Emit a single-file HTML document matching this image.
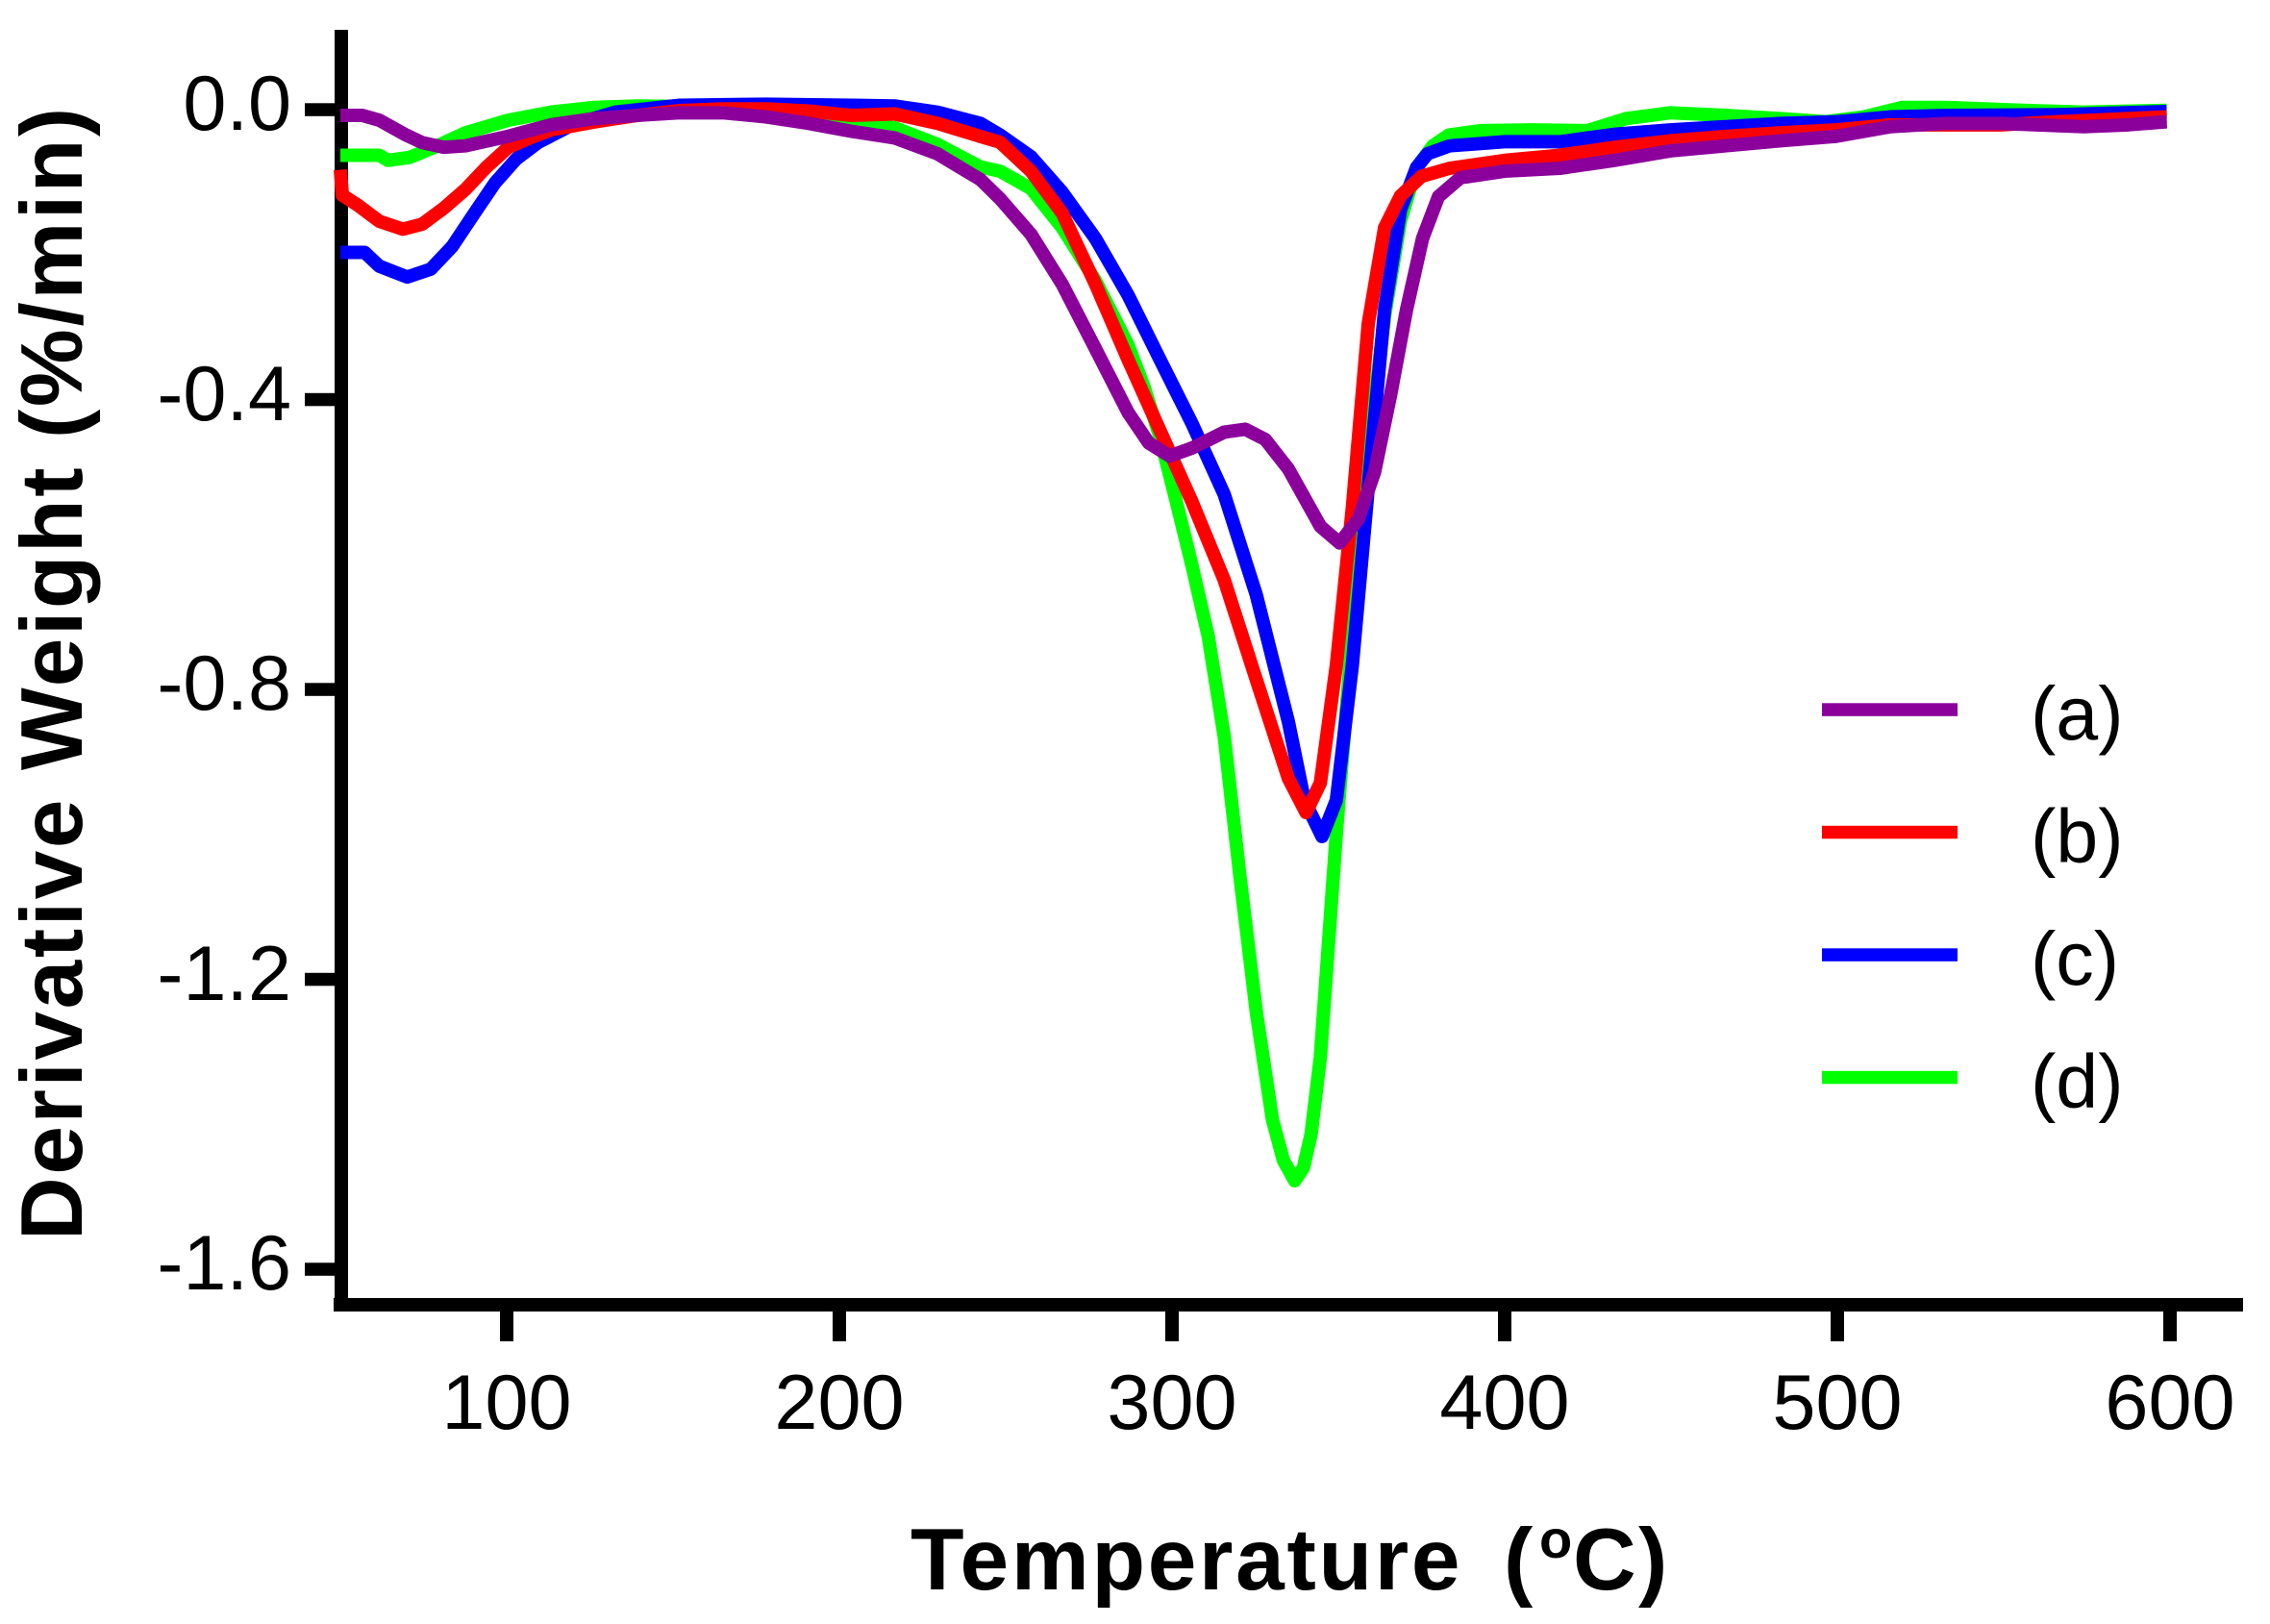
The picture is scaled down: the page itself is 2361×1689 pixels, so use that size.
<!DOCTYPE html>
<html>
<head>
<meta charset="utf-8">
<style>
html,body{margin:0;padding:0;background:#fff;}
svg{display:block;}
text{font-family:"Liberation Sans",Arial,sans-serif;fill:#000;}
</style>
</head>
<body>
<svg width="2361" height="1689" viewBox="0 0 2361 1689" xmlns="http://www.w3.org/2000/svg">
<rect x="0" y="0" width="2361" height="1689" fill="#fff"/>

<!-- axes -->
<rect x="348" y="31" width="14" height="1333" fill="#000"/>
<rect x="347" y="1350" width="1986" height="14" fill="#000"/>

<!-- y ticks -->
<rect x="317" y="107.3" width="32" height="13.5" fill="#000"/>
<rect x="317" y="408.8" width="32" height="13.5" fill="#000"/>
<rect x="317" y="710.3" width="32" height="13.5" fill="#000"/>
<rect x="317" y="1011.8" width="32" height="13.5" fill="#000"/>
<rect x="317" y="1313.3" width="32" height="13.5" fill="#000"/>

<!-- x ticks -->
<rect x="520" y="1363" width="14" height="32" fill="#000"/>
<rect x="866" y="1363" width="14" height="32" fill="#000"/>
<rect x="1212" y="1363" width="14" height="32" fill="#000"/>
<rect x="1558" y="1363" width="14" height="32" fill="#000"/>
<rect x="1904" y="1363" width="14" height="32" fill="#000"/>
<rect x="2250" y="1363" width="14" height="32" fill="#000"/>

<!-- y tick labels -->
<g font-size="81" text-anchor="end">
<text x="303" y="135">0.0</text>
<text x="303" y="437">-0.4</text>
<text x="303" y="738">-0.8</text>
<text x="303" y="1040">-1.2</text>
<text x="303" y="1341">-1.6</text>
</g>

<!-- x tick labels -->
<g font-size="81" text-anchor="middle">
<text x="527" y="1486">100</text>
<text x="873" y="1486">200</text>
<text x="1219" y="1486">300</text>
<text x="1565" y="1486">400</text>
<text x="1911" y="1486">500</text>
<text x="2257" y="1486">600</text>
</g>

<!-- axis titles -->
<text x="85" y="1290" font-size="91" font-weight="bold" letter-spacing="2.6" transform="rotate(-90 85 1290)">Derivative Weight (%/min)</text>

<text x="947" y="1653" font-size="91" font-weight="bold" letter-spacing="2.7">Temperature</text>
<text x="1564" y="1653" font-size="91" font-weight="bold">(</text>
<text x="1601" y="1620" font-size="56" font-weight="bold">o</text>
<text x="1636" y="1653" font-size="91" font-weight="bold">C</text>
<text x="1704" y="1653" font-size="91" font-weight="bold">)</text>

<!-- curves: data coords (T, v) -> X = 181 + 3.46 T, Y = 114 - 753.75 v -->
<g transform="matrix(3.46 0 0 -753.75 181 114)" fill="none" stroke-linejoin="round" stroke-linecap="butt">
<polyline vector-effect="non-scaling-stroke" stroke="#00FF00" stroke-width="14" points="50,-0.063 61.7,-0.063 64.3,-0.070 70.8,-0.066 77.2,-0.054 87.6,-0.032 100.5,-0.0146 113.3,-0.0035 126.3,0.003 139.2,0.005 160,0.004 180,0.001 195,-0.01 203.7,-0.02 216.6,-0.025 229.5,-0.048 242.4,-0.079 248.3,-0.085 257.6,-0.109 267,-0.163 277,-0.236 286.8,-0.325 291.7,-0.384 296.4,-0.452 301.3,-0.541 306,-0.629 310.9,-0.727 315.7,-0.865 320.5,-1.061 325.4,-1.247 330.2,-1.394 333.5,-1.45 336.9,-1.478 339.5,-1.46 341.8,-1.414 344.6,-1.307 349.5,-0.992 354.3,-0.718 359.1,-0.472 363.9,-0.285 368.7,-0.153 373.5,-0.08 378.4,-0.05 383.2,-0.035 392.8,-0.029 408.3,-0.028 424.9,-0.029 436.5,-0.0124 449.8,-0.0044 466.3,-0.008 483,-0.0124 496.2,-0.0168 508,-0.010 519.4,0.003 532.7,0.003 557.6,-0.0013 574,-0.0035 599,-0.001"/>
<polyline vector-effect="non-scaling-stroke" stroke="#0000FF" stroke-width="14" points="50,-0.197 57.3,-0.197 61.7,-0.216 70.1,-0.231 77.2,-0.22 83.6,-0.189 90,-0.145 96.5,-0.101 102.9,-0.068 109.4,-0.0455 119.7,-0.021 132.6,-0.0035 152,0.006 178,0.0075 203.7,0.006 216.6,0.005 229.5,-0.0035 242.4,-0.019 248.3,-0.035 257.6,-0.065 267,-0.114 277,-0.178 286.8,-0.256 296.4,-0.345 306,-0.433 315.7,-0.531 325.3,-0.669 335,-0.845 339.8,-0.953 345.1,-1.003 349.4,-0.953 354.2,-0.767 359,-0.521 363.9,-0.276 368.7,-0.138 373.5,-0.08 376.8,-0.061 383.4,-0.05 400,-0.0443 416.6,-0.0443 433,-0.034 449.8,-0.028 466.3,-0.0235 483,-0.019 499.5,-0.0168 516,-0.010 532.7,-0.008 566,-0.007 599,-0.0027"/>
<polyline vector-effect="non-scaling-stroke" stroke="#FF0000" stroke-width="14" points="50,-0.083 50.6,-0.118 55.3,-0.132 61.7,-0.154 68.8,-0.165 74.6,-0.158 81.1,-0.136 87.6,-0.11 94,-0.079 100.5,-0.052 107,-0.039 113.3,-0.028 126.3,-0.017 139.2,-0.008 152,-0.0013 165,0.001 178,0.001 190.8,-0.002 203.7,-0.008 216.6,-0.006 229.5,-0.019 242.4,-0.037 248.3,-0.045 257.6,-0.085 267,-0.143 277,-0.241 286.8,-0.345 296.4,-0.443 306,-0.541 315.7,-0.649 325.3,-0.786 335,-0.923 340.3,-0.970 344.6,-0.929 349.4,-0.767 354.2,-0.55 359,-0.295 363.9,-0.163 368.7,-0.119 375,-0.092 383.4,-0.081 400,-0.070 416.6,-0.063 433,-0.052 449.8,-0.043 466.3,-0.037 483,-0.032 499.5,-0.028 516,-0.021 549,-0.021 566,-0.0168 599,-0.010"/>
<polyline vector-effect="non-scaling-stroke" stroke="#8B009B" stroke-width="14" points="50,-0.008 56.6,-0.008 61.7,-0.0146 69.5,-0.0345 74.6,-0.0455 81.1,-0.052 87.6,-0.05 100.5,-0.0367 113.3,-0.021 126.3,-0.0124 139.2,-0.008 152,-0.0044 165,-0.0044 177.9,-0.010 190.8,-0.019 203.7,-0.030 216.6,-0.039 229.5,-0.061 242.4,-0.0965 248.3,-0.123 257.6,-0.172 267,-0.241 277,-0.33 286.8,-0.418 293,-0.46 299.3,-0.478 306,-0.467 315.7,-0.445 322,-0.441 328,-0.455 335,-0.496 344.6,-0.575 350.4,-0.598 356,-0.565 360.9,-0.5 365.7,-0.394 370.5,-0.276 375.3,-0.178 380.1,-0.12 386.7,-0.094 400,-0.085 416.6,-0.081 433,-0.070 449.8,-0.057 466.3,-0.050 483,-0.043 499.5,-0.037 516,-0.0235 532.7,-0.019 549,-0.019 574,-0.0235 587.5,-0.021 599,-0.0168"/>
</g>

<!-- legend -->
<rect x="1895" y="731.3" width="141" height="13.5" fill="#8B009B"/>
<rect x="1895" y="858.8" width="141" height="13.5" fill="#FF0000"/>
<rect x="1895" y="986.3" width="141" height="13.5" fill="#0000FF"/>
<rect x="1895" y="1113.8" width="141" height="13.5" fill="#00FF00"/>
<g font-size="79">
<text x="2112" y="769">(a)</text>
<text x="2112" y="896.5">(b)</text>
<text x="2112" y="1024">(c)</text>
<text x="2112" y="1151.5">(d)</text>
</g>
</svg>
</body>
</html>
